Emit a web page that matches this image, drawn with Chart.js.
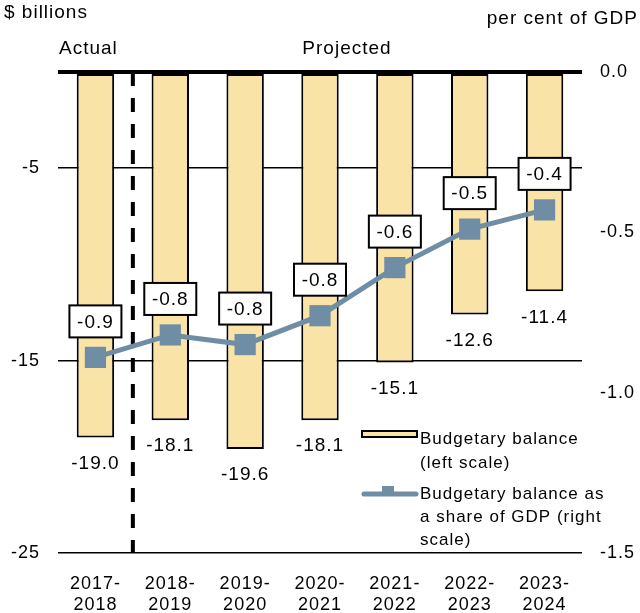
<!DOCTYPE html>
<html>
<head>
<meta charset="utf-8">
<script src="https://cdn.jsdelivr.net/npm/chart.js@4.4.1/dist/chart.umd.min.js"></script>
<style>
  html, body { margin: 0; padding: 0; background: #fff; }
  canvas { display: block; }
</style>
</head>
<body>
<canvas id="myChart" width="640" height="613"></canvas>
<script>
// fiscal years
const years = [['2017-', '2018'], ['2018-', '2019'], ['2019-', '2020'], ['2020-', '2021'],
               ['2021-', '2022'], ['2022-', '2023'], ['2023-', '2024']];
// budgetary balance, $ billions (left scale)
const balance = [-19.0, -18.1, -19.6, -18.1, -15.1, -12.6, -11.4];
// balance as share of GDP, per cent (right scale)
const shareGdp = [-0.89, -0.82, -0.85, -0.76, -0.61, -0.49, -0.43];
const shareLabels = ['-0.9', '-0.8', '-0.8', '-0.8', '-0.6', '-0.5', '-0.4'];
const leftTicks = [-25, -15, -5, 0];

const FONT = "'Liberation Sans', Arial, sans-serif";
const barColor = '#FAE3A7';
const lineColor = '#6F8DA4';

const annotations = {
    id: 'annotations',
    beforeDraw(chart) {
        chart.ctx.letterSpacing = '1px';
    },
    beforeDatasetsDraw(chart) {
        const ctx = chart.ctx;
        const xs = chart.scales.x;
        const area = chart.chartArea;
        // dashed divider between actual and projected
        const xDiv = (xs.getPixelForValue(0) + xs.getPixelForValue(1)) / 2;
        ctx.save();
        ctx.strokeStyle = '#000';
        ctx.lineWidth = 4;
        ctx.setLineDash([14, 12]);
        ctx.beginPath();
        ctx.moveTo(xDiv, area.top);
        ctx.lineTo(xDiv, area.bottom);
        ctx.stroke();
        ctx.restore();
    },
    afterDatasetsDraw(chart) {
        const ctx = chart.ctx;
        const xs = chart.scales.x;
        ctx.save();
        ctx.letterSpacing = '1px';
        ctx.fillStyle = '#000';
        ctx.textBaseline = 'middle';
        ctx.textAlign = 'center';
        ctx.font = '19px ' + FONT;

        // bar value labels
        const barMeta = chart.getDatasetMeta(0);
        barMeta.data.forEach((bar, i) => {
            ctx.fillText(balance[i].toFixed(1), bar.x, bar.y + 26);
        });

        // boxed labels over the line points
        const lineMeta = chart.getDatasetMeta(1);
        lineMeta.data.forEach((pt, i) => {
            const cy = pt.y - 36;
            const w = 52, h = 32;
            ctx.fillStyle = '#fff';
            ctx.fillRect(pt.x - w / 2, cy - h / 2, w, h);
            ctx.strokeStyle = '#000';
            ctx.lineWidth = 2;
            ctx.strokeRect(pt.x - w / 2, cy - h / 2, w, h);
            ctx.fillStyle = '#000';
            ctx.fillText(shareLabels[i], pt.x, cy + 1);
        });

        // headings
        ctx.font = '19px ' + FONT;
        ctx.fillText('Actual', xs.getPixelForValue(0) - 7, 49);
        ctx.fillText('Projected', 347, 49);
        ctx.textAlign = 'left';
        ctx.fillText('$ billions', 4, 13);
        ctx.textAlign = 'right';
        ctx.fillText('per cent of GDP', 638, 19);

        // legend
        ctx.textAlign = 'left';
        ctx.font = '17px ' + FONT;
        ctx.fillStyle = barColor;
        ctx.fillRect(362, 431, 55, 6);
        ctx.strokeStyle = '#000';
        ctx.lineWidth = 2;
        ctx.strokeRect(362, 431, 55, 6);
        ctx.fillStyle = '#000';
        ctx.fillText('Budgetary balance', 420, 439);
        ctx.fillText('(left scale)', 420, 463);

        ctx.strokeStyle = lineColor;
        ctx.lineWidth = 5;
        ctx.lineCap = 'round';
        ctx.beginPath();
        ctx.moveTo(364, 494);
        ctx.lineTo(416, 494);
        ctx.stroke();
        ctx.fillStyle = lineColor;
        ctx.fillRect(382, 486, 12, 8);
        ctx.fillStyle = '#000';
        ctx.fillText('Budgetary balance as', 420, 494);
        ctx.fillText('a share of GDP (right', 420, 517);
        ctx.fillText('scale)', 420, 540);
        ctx.restore();
    }
};

const ctx = document.getElementById('myChart').getContext('2d');
const chart = new Chart(ctx, {
    type: 'bar',
    data: {
        labels: years,
        datasets: [
            {
                type: 'bar',
                data: balance,
                yAxisID: 'y',
                backgroundColor: barColor,
                borderColor: '#000',
                borderWidth: 2,
                borderSkipped: false,
                barPercentage: 0.5,
                categoryPercentage: 1,
                order: 2
            },
            {
                type: 'line',
                data: shareGdp,
                yAxisID: 'y1',
                borderColor: lineColor,
                borderWidth: 5,
                pointStyle: 'rect',
                pointRadius: 15,
                pointHoverRadius: 15,
                pointBackgroundColor: lineColor,
                pointBorderWidth: 0,
                tension: 0,
                order: 1
            }
        ]
    },
    options: {
        responsive: false,
        devicePixelRatio: 1,
        animation: false,
        events: [],
        layout: { padding: { top: 72, left: 0, right: 0, bottom: 0 } },
        plugins: {
            legend: { display: false },
            tooltip: { enabled: false }
        },
        scales: {
            x: {
                grid: { display: false },
                border: { display: false },
                ticks: {
                    color: '#000',
                    font: { family: FONT, size: 18 },
                    padding: 12,
                    maxRotation: 0
                },
                afterFit(scale) { scale.height = 60; }
            },
            y: {
                position: 'left',
                min: -25,
                max: 0,
                afterBuildTicks(scale) {
                    scale.ticks = leftTicks.map(v => ({ value: v }));
                },
                ticks: {
                    color: '#000',
                    font: { family: FONT, size: 18 },
                    padding: 18,
                    callback: v => (v === 0 ? '' : v)
                },
                grid: {
                    color: '#000',
                    lineWidth: c => (c.tick && c.tick.value === 0 ? 4 : 1.5),
                    drawTicks: false
                },
                border: { display: false },
                afterFit(scale) { scale.width = 58; }
            },
            y1: {
                position: 'right',
                min: -1.5,
                max: 0,
                ticks: {
                    stepSize: 0.5,
                    color: '#000',
                    font: { family: FONT, size: 18 },
                    padding: 18,
                    callback: v => v.toFixed(1)
                },
                grid: { display: false, drawTicks: false },
                border: { display: false },
                afterFit(scale) { scale.width = 58; }
            }
        }
    },
    plugins: [annotations]
});
</script>
</body>
</html>
